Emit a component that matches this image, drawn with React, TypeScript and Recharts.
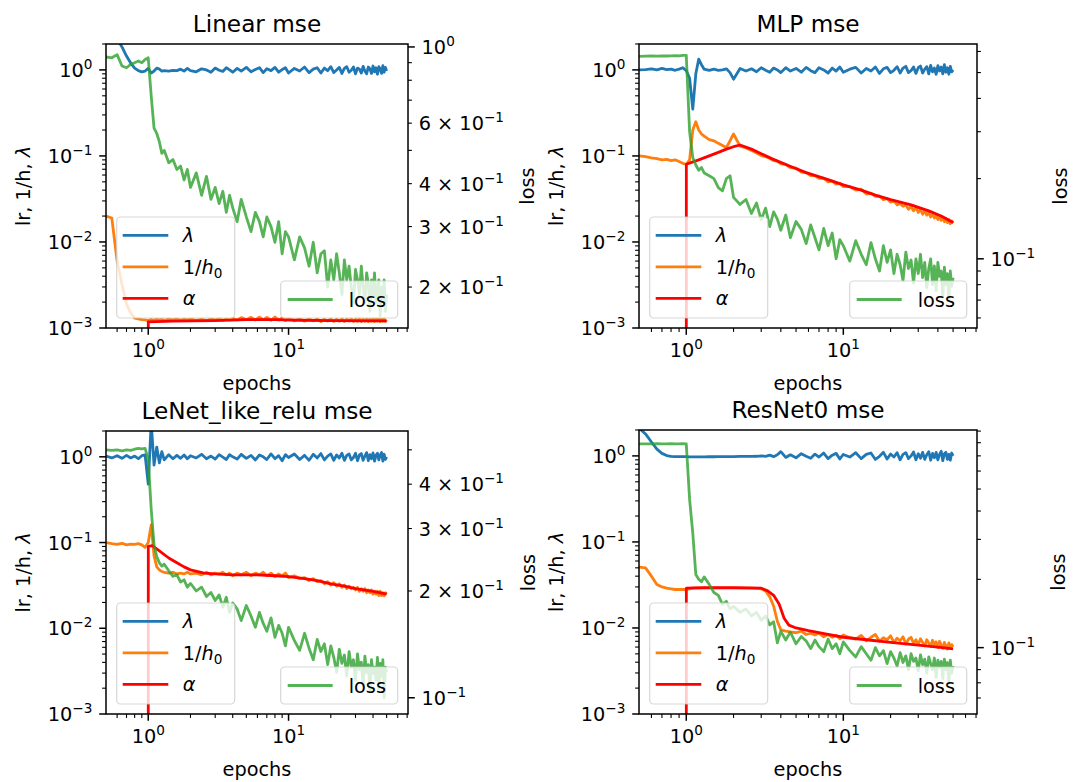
import React from 'react';
import { Line, LineChart, XAxis, YAxis } from 'recharts';

// shared epoch grid for the logged (noisy) curves
const EPOCHS = [
  0.5, 0.55, 0.6, 0.65, 0.7, 0.75, 0.8, 0.85, 0.9, 0.95,
  1.0, 1.05, 1.1, 1.15, 1.2, 1.25, 1.3, 1.4, 1.5, 1.6,
  1.7, 1.8, 1.9, 2.0, 2.2, 2.4, 2.6, 2.8, 3.0, 3.2,
  3.4, 3.6, 3.8, 4.0, 4.3, 4.6, 5.0, 5.4, 5.8, 6.2,
  6.6, 7.0, 7.5, 8.0, 8.5, 9.0, 9.5, 10, 11, 12,
  13, 14, 15, 16, 17, 18, 19, 20, 21, 22,
  23, 24, 25, 26, 27, 28, 29, 30, 31, 32,
  33, 34, 35, 36, 37, 38, 39, 40, 41, 42,
  43, 44, 45, 46, 47, 48, 49, 50,
];

// ---- Linear mse ----
const LIN_LAMBDA = [
  4.0, 3.0, 2.3, 1.85, 1.45, 1.2, 1.05, 0.98, 0.95, 0.97,
  1.04, 0.92, 0.97, 1.05, 1.02, 0.97, 0.98, 0.97, 0.99, 0.98,
  1.02, 0.97, 1.04, 0.98, 0.95, 1.03, 1.0, 0.94, 1.05, 0.99,
  0.96, 1.06, 1.0, 0.94, 1.04, 0.97, 1.07, 0.95, 1.01, 1.06,
  0.93, 1.03, 0.98, 1.07, 0.94, 1.01, 1.06, 0.92, 1.04, 0.97,
  1.08, 0.93, 1.02, 1.06, 0.92, 1.05, 0.98, 1.09, 0.93, 1.0,
  1.07, 0.91, 1.04, 1.09, 0.94, 0.99, 1.08, 0.9, 1.05, 1.02,
  0.92, 1.1, 0.97, 0.9, 1.08, 1.03, 0.91, 1.11, 0.95, 1.06,
  0.89, 1.09, 1.03, 0.91, 1.12, 0.94, 1.07, 0.97,
];
const LIN_INV_H = [
  0.02, 0.019, 0.006, 0.0032, 0.0019, 0.0015, 0.0013, 0.00128, 0.00125, 0.00124,
  0.00122, 0.00126, 0.00123, 0.00127, 0.00124, 0.00126, 0.00123, 0.00127, 0.00124, 0.00128,
  0.00123, 0.00127, 0.00124, 0.00128, 0.00123, 0.00127, 0.00122, 0.00128, 0.00124, 0.00129,
  0.00123, 0.00128, 0.00124, 0.0013, 0.00124, 0.00132, 0.00125, 0.00133, 0.00124, 0.00134,
  0.00125, 0.00133, 0.00123, 0.00134, 0.00124, 0.00131, 0.00122, 0.0013, 0.00121, 0.00128,
  0.0012, 0.00127, 0.00121, 0.00128, 0.00119, 0.00127, 0.0012, 0.00128, 0.00119, 0.00127,
  0.0012, 0.00128, 0.00119, 0.00127, 0.00121, 0.00128, 0.00119, 0.00127, 0.0012, 0.00129,
  0.00119, 0.00127, 0.0012, 0.00128, 0.00119, 0.00127, 0.0012, 0.00128, 0.00119, 0.00127,
  0.0012, 0.00128, 0.00119, 0.00127, 0.0012, 0.00128, 0.00119, 0.00125,
];
const LIN_ALPHA_X = [1, 1.001, 1.5, 3, 5, 8, 12, 20, 35, 50];
const LIN_ALPHA = [1e-5, 0.00118, 0.0012, 0.00122, 0.00125, 0.00125, 0.00123, 0.00122, 0.00121, 0.00121];
const LIN_LOSS = [
  0.935, 0.93, 0.95, 0.88, 0.87, 0.89, 0.9, 0.91, 0.9, 0.92,
  0.93, 0.72, 0.58, 0.56, 0.53, 0.49, 0.5, 0.46, 0.47, 0.44,
  0.45, 0.41, 0.44, 0.39, 0.43, 0.37, 0.42, 0.36, 0.39, 0.35,
  0.38, 0.33, 0.37, 0.34, 0.31, 0.36, 0.32, 0.29, 0.33, 0.31,
  0.28, 0.32, 0.3, 0.27, 0.31, 0.25, 0.29, 0.28, 0.24, 0.28,
  0.26, 0.23, 0.27, 0.22, 0.25, 0.255, 0.2, 0.24, 0.21, 0.25,
  0.22, 0.19, 0.24, 0.21, 0.23, 0.2, 0.18, 0.225, 0.21, 0.19,
  0.23, 0.2, 0.18, 0.22, 0.205, 0.17, 0.21, 0.19, 0.22, 0.18,
  0.2, 0.21, 0.165, 0.2, 0.185, 0.21, 0.17, 0.19,
];

// ---- MLP mse ----
const MLP_LAMBDA = [
  1.0, 1.01, 1.03, 1.0, 1.04, 1.01, 1.02, 0.99, 1.02, 1.06,
  0.98, 0.8, 0.35, 0.9, 1.33, 1.15, 1.02, 0.99, 1.02, 0.99,
  1.0, 1.03, 0.93, 0.78, 1.04, 0.97, 1.03, 0.95, 1.06, 0.99,
  0.94, 1.05, 1.0, 0.93, 1.06, 0.97, 1.04, 0.94, 1.07, 0.98,
  0.93, 1.06, 1.0, 0.92, 1.05, 0.97, 1.08, 0.94, 1.02, 1.07,
  0.92, 1.04, 0.97, 1.08, 0.91, 1.03, 1.07, 0.93, 0.99, 1.09,
  0.92, 1.05, 1.1, 0.93, 0.98, 1.08, 0.91, 1.06, 1.11, 0.92,
  1.02, 1.09, 0.9, 1.13, 0.95, 1.05, 0.89, 1.12, 0.97, 1.08,
  0.9, 1.15, 0.94, 1.06, 0.89, 1.1, 0.95, 1.0,
];
const MLP_INV_H = [
  0.1, 0.098, 0.095, 0.093, 0.09, 0.091, 0.088, 0.09, 0.086, 0.082,
  0.08, 0.09, 0.2, 0.25, 0.2, 0.18, 0.17, 0.155, 0.15, 0.14,
  0.132, 0.125, 0.15, 0.18, 0.13, 0.124, 0.116, 0.108, 0.101, 0.098,
  0.094, 0.088, 0.087, 0.081, 0.08, 0.073, 0.072, 0.065, 0.064, 0.059,
  0.059, 0.055, 0.055, 0.05, 0.051, 0.047, 0.048, 0.044, 0.044, 0.04,
  0.041, 0.036, 0.037, 0.034, 0.034, 0.031, 0.032, 0.029, 0.03, 0.027,
  0.028, 0.026, 0.027, 0.024, 0.026, 0.023, 0.025, 0.022, 0.024, 0.021,
  0.023, 0.0205, 0.022, 0.0195, 0.021, 0.019, 0.0205, 0.0182, 0.0198, 0.0178,
  0.0192, 0.0172, 0.0188, 0.0168, 0.0182, 0.0163, 0.0175, 0.0165,
];
const MLP_ALPHA_X = [1, 1.001, 1.2, 1.4, 1.6, 1.8, 2.0, 2.2, 2.6, 3.0, 3.5, 4.5, 5.8, 8, 10, 13, 16, 20, 27, 35, 42, 50];
const MLP_ALPHA = [
  1e-5, 0.08, 0.09, 0.1, 0.11, 0.12, 0.128, 0.134, 0.12, 0.106, 0.093,
  0.077, 0.064, 0.053, 0.046, 0.04, 0.035, 0.031, 0.027, 0.023, 0.02, 0.0168,
];
const MLP_LOSS = [
  0.575, 0.576, 0.577, 0.576, 0.578, 0.577, 0.578, 0.579, 0.578, 0.58,
  0.58, 0.3, 0.24, 0.225, 0.215, 0.22, 0.21, 0.205, 0.2, 0.185,
  0.18, 0.2, 0.205, 0.17, 0.16, 0.167, 0.148, 0.162, 0.14, 0.155,
  0.132, 0.15, 0.141, 0.128, 0.146, 0.12, 0.138, 0.129, 0.114, 0.134,
  0.12, 0.108, 0.13, 0.112, 0.125, 0.1, 0.118, 0.112, 0.098, 0.117,
  0.104, 0.095, 0.115, 0.1, 0.09, 0.112, 0.097, 0.108, 0.088, 0.104,
  0.095, 0.083, 0.106, 0.092, 0.099, 0.081, 0.1, 0.088, 0.104, 0.085,
  0.097, 0.078, 0.092, 0.1, 0.08, 0.094, 0.076, 0.097, 0.086, 0.09,
  0.072, 0.093, 0.08, 0.088, 0.07, 0.09, 0.079, 0.085,
];

// ---- LeNet_like_relu mse ----
const LENET_LAMBDA = [
  1.02, 0.97, 1.03, 0.96, 1.04, 0.97, 1.02, 0.95, 1.03, 1.05,
  0.48, 2.5, 0.8, 1.3, 0.85, 1.15, 0.92, 1.06, 0.95, 1.04,
  0.96, 1.05, 0.95, 1.03, 0.97, 1.07, 0.95, 1.02, 0.94, 1.06,
  0.99, 0.93, 1.06, 1.0, 0.94, 1.07, 0.96, 1.04, 0.92, 1.05,
  1.0, 0.93, 1.08, 0.95, 1.03, 0.9, 1.06, 0.98, 1.08, 0.93,
  1.04, 0.91, 1.07, 0.97, 1.09, 0.92, 1.02, 1.08, 0.91, 1.05,
  0.97, 1.1, 0.91, 1.04, 1.08, 0.92, 0.98, 1.1, 0.9, 1.05,
  1.09, 0.91, 1.02, 1.12, 0.9, 1.06, 0.95, 1.11, 0.89, 1.04,
  1.1, 0.92, 1.05, 1.12, 0.89, 1.07, 0.93, 1.0,
];
const LENET_INV_H = [
  0.1, 0.097, 0.095, 0.098, 0.094, 0.096, 0.095, 0.097, 0.094, 0.088,
  0.1, 0.16, 0.07, 0.052, 0.048, 0.046, 0.045, 0.044, 0.045, 0.043,
  0.044, 0.043, 0.045, 0.043, 0.044, 0.042, 0.045, 0.042, 0.044, 0.043,
  0.045, 0.042, 0.044, 0.041, 0.044, 0.042, 0.045, 0.041, 0.044, 0.042,
  0.045, 0.041, 0.044, 0.04, 0.043, 0.041, 0.044, 0.039, 0.041, 0.038,
  0.039, 0.036, 0.038, 0.035, 0.036, 0.033, 0.035, 0.032, 0.034, 0.031,
  0.033, 0.03, 0.032, 0.029, 0.031, 0.029, 0.03, 0.028, 0.03, 0.027,
  0.029, 0.027, 0.029, 0.026, 0.028, 0.026, 0.028, 0.025, 0.027, 0.025,
  0.027, 0.024, 0.027, 0.024, 0.026, 0.024, 0.026, 0.025,
];
const LENET_ALPHA_X = [1, 1.001, 1.07, 1.2, 1.4, 1.6, 1.8, 2.0, 2.5, 3, 4, 6, 8, 10, 13, 16, 20, 25, 30, 40, 50];
const LENET_ALPHA = [
  1e-5, 0.09, 0.092, 0.08, 0.066, 0.058, 0.052, 0.048, 0.044, 0.043, 0.042,
  0.042, 0.041, 0.04, 0.038, 0.036, 0.033, 0.031, 0.029, 0.027, 0.025,
];
const LENET_LOSS = [
  0.5, 0.498, 0.5, 0.497, 0.5, 0.498, 0.502, 0.505, 0.503, 0.505,
  0.47, 0.34, 0.27, 0.25, 0.24, 0.235, 0.238, 0.228, 0.22, 0.222,
  0.212, 0.215, 0.205, 0.21, 0.2, 0.205, 0.193, 0.198, 0.188, 0.195,
  0.18, 0.192, 0.174, 0.185, 0.178, 0.165, 0.182, 0.17, 0.158, 0.174,
  0.162, 0.154, 0.168, 0.148, 0.16, 0.152, 0.14, 0.158, 0.145, 0.136,
  0.152, 0.138, 0.128, 0.146, 0.135, 0.142, 0.124, 0.14, 0.13, 0.118,
  0.137, 0.125, 0.132, 0.115, 0.135, 0.122, 0.128, 0.112, 0.133, 0.12,
  0.126, 0.108, 0.131, 0.118, 0.124, 0.104, 0.128, 0.117, 0.122, 0.112,
  0.13, 0.106, 0.125, 0.115, 0.128, 0.1, 0.122, 0.118,
];

// ---- ResNet0 mse ----
const RES_LAMBDA = [
  2.1, 1.8, 1.45, 1.2, 1.07, 1.01, 0.99, 0.98, 0.98, 0.98,
  0.98, 0.975, 0.975, 0.975, 0.975, 0.975, 0.976, 0.977, 0.978, 0.98,
  0.98, 0.981, 0.982, 0.983, 0.985, 0.986, 0.988, 0.99, 1.0, 0.99,
  1.02, 0.98, 1.03, 1.12, 0.96, 1.03, 0.95, 1.06, 0.99, 0.94,
  1.05, 0.97, 1.08, 0.93, 1.02, 1.07, 0.92, 1.04, 0.97, 1.09,
  0.93, 1.04, 1.08, 0.91, 0.99, 1.1, 0.92, 1.05, 0.97, 1.09,
  0.9, 1.04, 1.09, 0.93, 1.0, 1.11, 0.9, 1.06, 0.94, 1.1,
  0.91, 1.03, 1.12, 0.89, 1.07, 0.95, 1.1, 0.9, 1.04, 1.13,
  0.88, 1.06, 1.1, 0.91, 1.04, 0.89, 1.08, 1.0,
];
const RES_INV_H = [
  0.051, 0.05, 0.04, 0.032, 0.03, 0.029, 0.0285, 0.028, 0.028, 0.028,
  0.028, 0.0285, 0.029, 0.029, 0.029, 0.029, 0.029, 0.029, 0.029, 0.029,
  0.029, 0.029, 0.029, 0.029, 0.029, 0.029, 0.029, 0.0288, 0.0285, 0.027,
  0.023, 0.018, 0.012, 0.0095, 0.0092, 0.009, 0.0088, 0.0092, 0.0084, 0.0087,
  0.0083, 0.0087, 0.0079, 0.0084, 0.0078, 0.0082, 0.0075, 0.0083, 0.0077, 0.0074,
  0.0082, 0.0071, 0.0078, 0.0084, 0.007, 0.0077, 0.0073, 0.0081, 0.0068, 0.0076,
  0.0071, 0.0079, 0.0065, 0.0074, 0.0078, 0.0066, 0.0073, 0.0064, 0.0075, 0.0068,
  0.0062, 0.0073, 0.0067, 0.0061, 0.0072, 0.0064, 0.0069, 0.0059, 0.007, 0.0063,
  0.0058, 0.0068, 0.0062, 0.0057, 0.0067, 0.0059, 0.0064, 0.006,
];
const RES_ALPHA_X = [1, 1.001, 1.3, 2, 3, 3.3, 3.6, 3.9, 4.2, 4.5, 5, 6, 8, 10, 15, 20, 30, 40, 50];
const RES_ALPHA = [
  1e-5, 0.029, 0.0295, 0.0295, 0.029, 0.027, 0.024, 0.019, 0.013, 0.0108,
  0.01, 0.0093, 0.0084, 0.0078, 0.0072, 0.0068, 0.0063, 0.006, 0.0057,
];
const RES_LOSS = [
  0.79, 0.79, 0.791, 0.792, 0.79, 0.791, 0.792, 0.79, 0.791, 0.792,
  0.79, 0.45, 0.32, 0.21, 0.2, 0.195, 0.205, 0.19, 0.175, 0.17,
  0.155, 0.16, 0.148, 0.152, 0.143, 0.148, 0.138, 0.143, 0.132, 0.138,
  0.126, 0.13, 0.105, 0.118, 0.108, 0.117, 0.104, 0.112, 0.107, 0.099,
  0.108, 0.101, 0.096, 0.109, 0.099, 0.104, 0.094, 0.106, 0.097, 0.091,
  0.101, 0.094, 0.088, 0.1, 0.092, 0.097, 0.085, 0.096, 0.09, 0.083,
  0.095, 0.086, 0.092, 0.08, 0.094, 0.087, 0.09, 0.079, 0.093, 0.084,
  0.089, 0.077, 0.091, 0.085, 0.08, 0.09, 0.074, 0.088, 0.082, 0.087,
  0.073, 0.089, 0.08, 0.086, 0.07, 0.088, 0.077, 0.083,
];

// axes
const X_DOMAIN: [number, number] = [0.5, 71];
const X_TICKS = [0.6, 0.7, 0.8, 0.9, 1, 2, 3, 4, 5, 6, 7, 8, 9, 10, 20, 30, 40, 50, 60, 70];
const LEFT_DOMAIN: [number, number] = [0.001, 2];
const LEFT_TICKS = [
  0.001, 0.002, 0.003, 0.004, 0.005, 0.006, 0.007, 0.008, 0.009,
  0.01, 0.02, 0.03, 0.04, 0.05, 0.06, 0.07, 0.08, 0.09,
  0.1, 0.2, 0.3, 0.4, 0.5, 0.6, 0.7, 0.8, 0.9, 1, 2,
];

const FONT = "'DejaVu Sans', sans-serif";
const FS = 19.3;
const SUP_FS = 13.6;
const TITLE_FS = 23.2;
const LINE_W = 2.8;
const MAJOR_LEN = 6.8;
const MINOR_LEN = 3.9;
const PAD = 6.8;

const C_LAMBDA = '#1f77b4';
const C_INVH = '#ff7f0e';
const C_ALPHA = '#ff0000';
const C_LOSS = '#2ca02c';

const isDecade = (v: number) => {
  const l = Math.log10(v);
  return Math.abs(l - Math.round(l)) < 1e-9;
};
const expOf = (v: number) => Math.floor(Math.log10(v) + 1e-9);
const expText = (e: number) => (e < 0 ? `\u2212${-e}` : `${e}`);

const PowLabel = ({ x, y, anchor, v }: { x: number; y: number; anchor: 'start' | 'middle' | 'end'; v: number }) => {
  const e = expOf(v);
  const m = Math.round(v / Math.pow(10, e));
  return (
    <text x={x} y={y} textAnchor={anchor} fontFamily={FONT} fontSize={FS} fill="#000">
      {m === 1 ? '10' : `${m} \u00d7 10`}
      <tspan dy={-8} fontSize={SUP_FS}>{expText(e)}</tspan>
    </text>
  );
};

const LeftTick = (props: any) => {
  const { x, y, payload } = props;
  const v = payload.value;
  const major = isDecade(v);
  const len = major ? MAJOR_LEN : MINOR_LEN;
  return (
    <g>
      <line x1={x - len} x2={x} y1={y} y2={y} stroke="#000" strokeWidth={major ? 1.5 : 1.1} />
      {major && <PowLabel x={x - MAJOR_LEN - PAD} y={y + 7} anchor="end" v={v} />}
    </g>
  );
};

const XTick = (props: any) => {
  const { x, y, payload } = props;
  const v = payload.value;
  const major = isDecade(v);
  const len = major ? MAJOR_LEN : MINOR_LEN;
  return (
    <g>
      <line x1={x} x2={x} y1={y} y2={y + len} stroke="#000" strokeWidth={major ? 1.5 : 1.1} />
      {major && <PowLabel x={x} y={y + 29} anchor="middle" v={v} />}
    </g>
  );
};

const makeRightTick = (labeled: number[]) => (props: any) => {
  const { x, y, payload } = props;
  const v = payload.value;
  const major = isDecade(v);
  const len = major ? MAJOR_LEN : MINOR_LEN;
  const show = labeled.some((l) => Math.abs(l - v) < 1e-9);
  return (
    <g>
      <line x1={x} x2={x + len} y1={y} y2={y} stroke="#000" strokeWidth={major ? 1.5 : 1.1} />
      {show && <PowLabel x={x + len + PAD} y={y + 7} anchor="start" v={v} />}
    </g>
  );
};

const zip = (xs: number[], ys: number[]) => xs.map((x, i) => ({ x, y: ys[i] }));

type PanelSpec = {
  title: string;
  l: number;
  t: number;
  r: number;
  b: number;
  rightDomain: [number, number];
  rightTicks: number[];
  rightLabeled: number[];
  rightW: number;
  lossDx: number;
  lambda: number[];
  invH: number[];
  alphaX: number[];
  alpha: number[];
  loss: number[];
};

const PANELS: PanelSpec[] = [
  {
    title: 'Linear mse', l: 106, t: 44, r: 408, b: 328,
    rightDomain: [0.152, 1.02], rightTicks: [0.2, 0.3, 0.4, 0.5, 0.6, 0.7, 0.8, 0.9, 1],
    rightLabeled: [0.2, 0.3, 0.4, 0.6, 1], rightW: 110, lossDx: 119,
    lambda: LIN_LAMBDA, invH: LIN_INV_H, alphaX: LIN_ALPHA_X, alpha: LIN_ALPHA, loss: LIN_LOSS,
  },
  {
    title: 'MLP mse', l: 639, t: 44, r: 977, b: 328,
    rightDomain: [0.055, 0.64], rightTicks: [0.06, 0.07, 0.08, 0.09, 0.1, 0.2, 0.3, 0.4, 0.5, 0.6],
    rightLabeled: [0.1], rightW: 90, lossDx: 83,
    lambda: MLP_LAMBDA, invH: MLP_INV_H, alphaX: MLP_ALPHA_X, alpha: MLP_ALPHA, loss: MLP_LOSS,
  },
  {
    title: 'LeNet_like_relu mse', l: 106, t: 431, r: 408, b: 714,
    rightDomain: [0.09, 0.565], rightTicks: [0.1, 0.2, 0.3, 0.4, 0.5],
    rightLabeled: [0.1, 0.2, 0.3, 0.4], rightW: 110, lossDx: 120,
    lambda: LENET_LAMBDA, invH: LENET_INV_H, alphaX: LENET_ALPHA_X, alpha: LENET_ALPHA, loss: LENET_LOSS,
  },
  {
    title: 'ResNet0 mse', l: 639, t: 430, r: 977, b: 714,
    rightDomain: [0.051, 0.91], rightTicks: [0.06, 0.07, 0.08, 0.09, 0.1, 0.2, 0.3, 0.4, 0.5, 0.6, 0.7, 0.8, 0.9],
    rightLabeled: [0.1], rightW: 90, lossDx: 81,
    lambda: RES_LAMBDA, invH: RES_INV_H, alphaX: RES_ALPHA_X, alpha: RES_ALPHA, loss: RES_LOSS,
  },
];

const LEFT_W = 110;
const TOP_M = 24;
const X_H = 50;

const Panel = ({ p }: { p: PanelSpec }) => {
  const cw = p.r - p.l + LEFT_W + p.rightW;
  const ch = p.b - p.t + TOP_M + X_H;
  const RightTick = makeRightTick(p.rightLabeled);
  const lineProps = {
    dataKey: 'y',
    type: 'linear' as const,
    dot: false,
    activeDot: false,
    isAnimationActive: false,
    strokeWidth: LINE_W,
    strokeLinejoin: 'round' as const,
  };
  return (
    <div style={{ position: 'absolute', left: p.l - LEFT_W, top: p.t - TOP_M }}>
      <LineChart width={cw} height={ch} margin={{ top: TOP_M, right: 0, bottom: 0, left: 0 }}>
        <XAxis
          dataKey="x" type="number" scale="log" domain={X_DOMAIN} allowDataOverflow
          ticks={X_TICKS} interval={0} tick={XTick} tickLine={false} axisLine={false}
          tickSize={0} tickMargin={0} height={X_H}
        />
        <YAxis
          yAxisId="left" type="number" scale="log" domain={LEFT_DOMAIN} allowDataOverflow
          ticks={LEFT_TICKS} interval={0} tick={LeftTick} tickLine={false} axisLine={false}
          tickSize={0} tickMargin={0} width={LEFT_W}
        />
        <YAxis
          yAxisId="right" orientation="right" type="number" scale="log" domain={p.rightDomain} allowDataOverflow
          ticks={p.rightTicks} interval={0} tick={RightTick} tickLine={false} axisLine={false}
          tickSize={0} tickMargin={0} width={p.rightW}
        />
        <Line {...lineProps} yAxisId="left" data={zip(EPOCHS, p.lambda)} stroke={C_LAMBDA} />
        <Line {...lineProps} yAxisId="left" data={zip(EPOCHS, p.invH)} stroke={C_INVH} />
        <Line {...lineProps} yAxisId="left" data={zip(p.alphaX, p.alpha)} stroke={C_ALPHA} />
        <Line {...lineProps} yAxisId="right" data={zip(EPOCHS, p.loss)} stroke={C_LOSS} strokeOpacity={0.8} />
      </LineChart>
    </div>
  );
};

const LEFT_LEGEND = [
  { color: C_LAMBDA, key: 'lambda' },
  { color: C_INVH, key: 'invh' },
  { color: C_ALPHA, key: 'alpha' },
];

const legendLabel = (key: string) => {
  if (key === 'lambda') return <tspan fontStyle="italic">λ</tspan>;
  if (key === 'alpha') return <tspan fontStyle="italic">α</tspan>;
  return (
    <>
      1/<tspan fontStyle="italic">h</tspan>
      <tspan dy={4} fontSize={SUP_FS}>0</tspan>
    </>
  );
};

const Decor = ({ p }: { p: PanelSpec }) => {
  const cx = (p.l + p.r) / 2;
  const cy = (p.t + p.b) / 2;
  const lx = p.l + 10.7;
  const ly = p.b - 10 - 101;
  const rx = p.r - 10.3 - 117;
  const ry = p.b - 10 - 37;
  return (
    <g fontFamily={FONT} fill="#000">
      <rect x={p.l} y={p.t} width={p.r - p.l} height={p.b - p.t} fill="none" stroke="#000" strokeWidth={1.5} />
      <text x={cx} y={p.t - 12} textAnchor="middle" fontSize={TITLE_FS}>{p.title}</text>
      <text x={cx} y={p.b + 62} textAnchor="middle" fontSize={FS}>epochs</text>
      <text
        transform={`translate(${p.l - 83},${cy}) rotate(-90)`}
        textAnchor="middle" dominantBaseline="central" fontSize={FS}
      >
        lr, 1/h, <tspan fontStyle="italic">λ</tspan>
      </text>
      <text
        transform={`translate(${p.r + p.lossDx},${cy}) rotate(-90)`}
        textAnchor="middle" dominantBaseline="central" fontSize={FS}
      >
        loss
      </text>
      <rect x={lx} y={ly} width={118} height={101} rx={4} fill="#fff" fillOpacity={0.8} stroke="#cccccc" strokeOpacity={0.8} strokeWidth={1.2} />
      {LEFT_LEGEND.map((it, i) => {
        const yy = ly + 18.3 + i * 31.5;
        return (
          <g key={it.key}>
            <line x1={lx + 6} x2={lx + 51.6} y1={yy} y2={yy} stroke={it.color} strokeWidth={LINE_W} />
            <text x={lx + 66} y={yy + 7} fontSize={FS}>{legendLabel(it.key)}</text>
          </g>
        );
      })}
      <rect x={rx} y={ry} width={117} height={37} rx={4} fill="#fff" fillOpacity={0.8} stroke="#cccccc" strokeOpacity={0.8} strokeWidth={1.2} />
      <line x1={rx + 7} x2={rx + 52} y1={ry + 18.5} y2={ry + 18.5} stroke={C_LOSS} strokeOpacity={0.8} strokeWidth={LINE_W} />
      <text x={rx + 68} y={ry + 25.5} fontSize={FS}>loss</text>
    </g>
  );
};

export default function App() {
  return (
    <div style={{ position: 'absolute', left: 0, top: 0, width: 1073, height: 782, background: '#fff', overflow: 'hidden' }}>
      {PANELS.map((p) => (
        <Panel key={p.title} p={p} />
      ))}
      <svg width={1073} height={782} style={{ position: 'absolute', left: 0, top: 0, pointerEvents: 'none' }}>
        {PANELS.map((p) => (
          <Decor key={p.title} p={p} />
        ))}
      </svg>
    </div>
  );
}
